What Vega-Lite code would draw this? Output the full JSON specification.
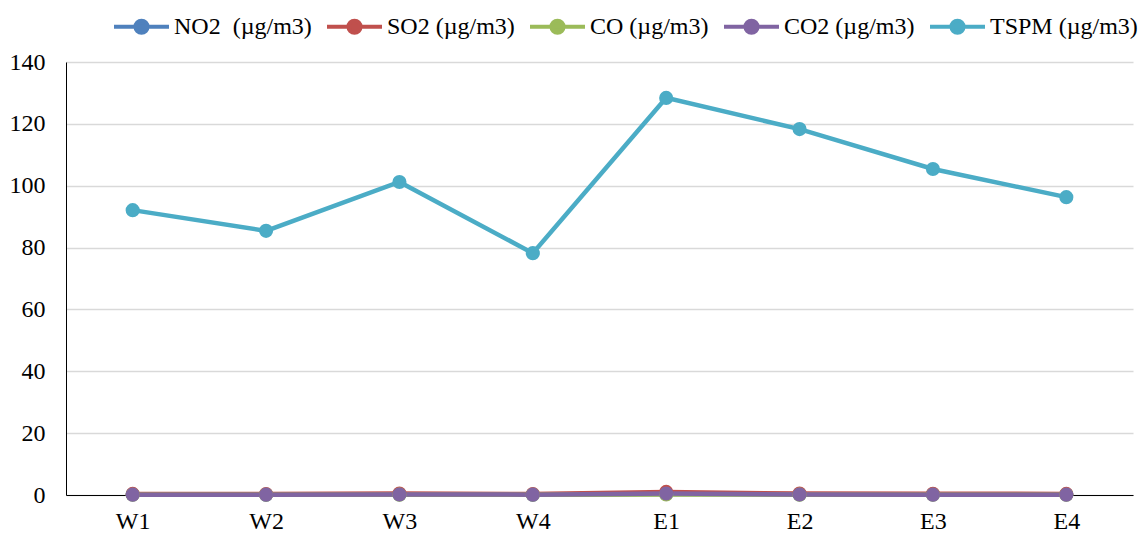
{
  "$schema": "https://vega.github.io/schema/vega-lite/v6.json",
  "width": 1067,
  "height": 433,
  "autosize": {"type": "none"},
  "padding": {"left": 66, "top": 62, "right": 6, "bottom": 41},
  "background": "white",
  "config": {
    "view": {"stroke": null},
    "font": "Liberation Serif"
  },
  "data": {
    "values": [
      {"site": "W1", "series": "NO2 \u00a0(µg/m3)", "value": 0.15},
      {"site": "W2", "series": "NO2 \u00a0(µg/m3)", "value": 0.12},
      {"site": "W3", "series": "NO2 \u00a0(µg/m3)", "value": 0.18},
      {"site": "W4", "series": "NO2 \u00a0(µg/m3)", "value": 0.10},
      {"site": "E1", "series": "NO2 \u00a0(µg/m3)", "value": 0.35},
      {"site": "E2", "series": "NO2 \u00a0(µg/m3)", "value": 0.20},
      {"site": "E3", "series": "NO2 \u00a0(µg/m3)", "value": 0.18},
      {"site": "E4", "series": "NO2 \u00a0(µg/m3)", "value": 0.15},
      {"site": "W1", "series": "SO2 (µg/m3)", "value": 0.35},
      {"site": "W2", "series": "SO2 (µg/m3)", "value": 0.30},
      {"site": "W3", "series": "SO2 (µg/m3)", "value": 0.45},
      {"site": "W4", "series": "SO2 (µg/m3)", "value": 0.30},
      {"site": "E1", "series": "SO2 (µg/m3)", "value": 1.0},
      {"site": "E2", "series": "SO2 (µg/m3)", "value": 0.45},
      {"site": "E3", "series": "SO2 (µg/m3)", "value": 0.40},
      {"site": "E4", "series": "SO2 (µg/m3)", "value": 0.35},
      {"site": "W1", "series": "CO (µg/m3)", "value": 0.08},
      {"site": "W2", "series": "CO (µg/m3)", "value": 0.08},
      {"site": "W3", "series": "CO (µg/m3)", "value": 0.10},
      {"site": "W4", "series": "CO (µg/m3)", "value": 0.08},
      {"site": "E1", "series": "CO (µg/m3)", "value": 0.20},
      {"site": "E2", "series": "CO (µg/m3)", "value": 0.10},
      {"site": "E3", "series": "CO (µg/m3)", "value": 0.08},
      {"site": "E4", "series": "CO (µg/m3)", "value": 0.08},
      {"site": "W1", "series": "CO2 (µg/m3)", "value": 0.12},
      {"site": "W2", "series": "CO2 (µg/m3)", "value": 0.12},
      {"site": "W3", "series": "CO2 (µg/m3)", "value": 0.15},
      {"site": "W4", "series": "CO2 (µg/m3)", "value": 0.12},
      {"site": "E1", "series": "CO2 (µg/m3)", "value": 0.50},
      {"site": "E2", "series": "CO2 (µg/m3)", "value": 0.15},
      {"site": "E3", "series": "CO2 (µg/m3)", "value": 0.12},
      {"site": "E4", "series": "CO2 (µg/m3)", "value": 0.12},
      {"site": "W1", "series": "TSPM (µg/m3)", "value": 92.1},
      {"site": "W2", "series": "TSPM (µg/m3)", "value": 85.4},
      {"site": "W3", "series": "TSPM (µg/m3)", "value": 101.2},
      {"site": "W4", "series": "TSPM (µg/m3)", "value": 78.2},
      {"site": "E1", "series": "TSPM (µg/m3)", "value": 128.4},
      {"site": "E2", "series": "TSPM (µg/m3)", "value": 118.3},
      {"site": "E3", "series": "TSPM (µg/m3)", "value": 105.4},
      {"site": "E4", "series": "TSPM (µg/m3)", "value": 96.3}
    ]
  },
  "mark": {"type": "line", "strokeWidth": 4.5, "point": {"filled": true, "size": 200, "opacity": 1}},
  "encoding": {
    "x": {
      "field": "site", "type": "nominal",
      "sort": ["W1", "W2", "W3", "W4", "E1", "E2", "E3", "E4"],
      "scale": {"type": "point", "padding": 0.5},
      "axis": {
        "title": null, "labelAngle": 0, "labelFont": "Liberation Serif", "labelFontSize": 24,
        "labelColor": "black", "labelPadding": 14, "ticks": false, "domainColor": "black",
        "domainWidth": 1, "grid": false
      }
    },
    "y": {
      "field": "value", "type": "quantitative",
      "scale": {"domain": [0, 140], "nice": false},
      "axis": {
        "title": null, "values": [0, 20, 40, 60, 80, 100, 120, 140], "labelFont": "Liberation Serif",
        "labelFontSize": 24, "labelColor": "black", "labelPadding": 21, "ticks": false,
        "domainColor": "black", "domainWidth": 1, "gridColor": "#d9d9d9", "gridWidth": 1.3
      }
    },
    "color": {
      "field": "series", "type": "nominal",
      "scale": {
        "domain": ["NO2 \u00a0(µg/m3)", "SO2 (µg/m3)", "CO (µg/m3)", "CO2 (µg/m3)", "TSPM (µg/m3)"],
        "range": ["#4F81BD", "#C0504D", "#9BBB59", "#8064A2", "#4BACC6"]
      },
      "legend": {
        "title": null, "orient": "none", "direction": "horizontal", "legendX": 46, "legendY": -65,
        "columns": 5, "columnPadding": 7,
        "symbolType": "M-1,0H1M-0.22,0A0.22,0.22 0 1,0 0.22,0A0.22,0.22 0 1,0 -0.22,0",
        "symbolSize": 3025, "symbolStrokeWidth": 4, "labelOffset": 3,
        "labelFont": "Liberation Serif", "labelFontSize": 24, "labelColor": "black", "labelLimit": 400,
        "encode": {"symbols": {"update": {
          "fill": {"scale": "color", "field": "value"},
          "stroke": {"scale": "color", "field": "value"},
          "opacity": {"value": 1}
        }}}
      }
    }
  }
}
